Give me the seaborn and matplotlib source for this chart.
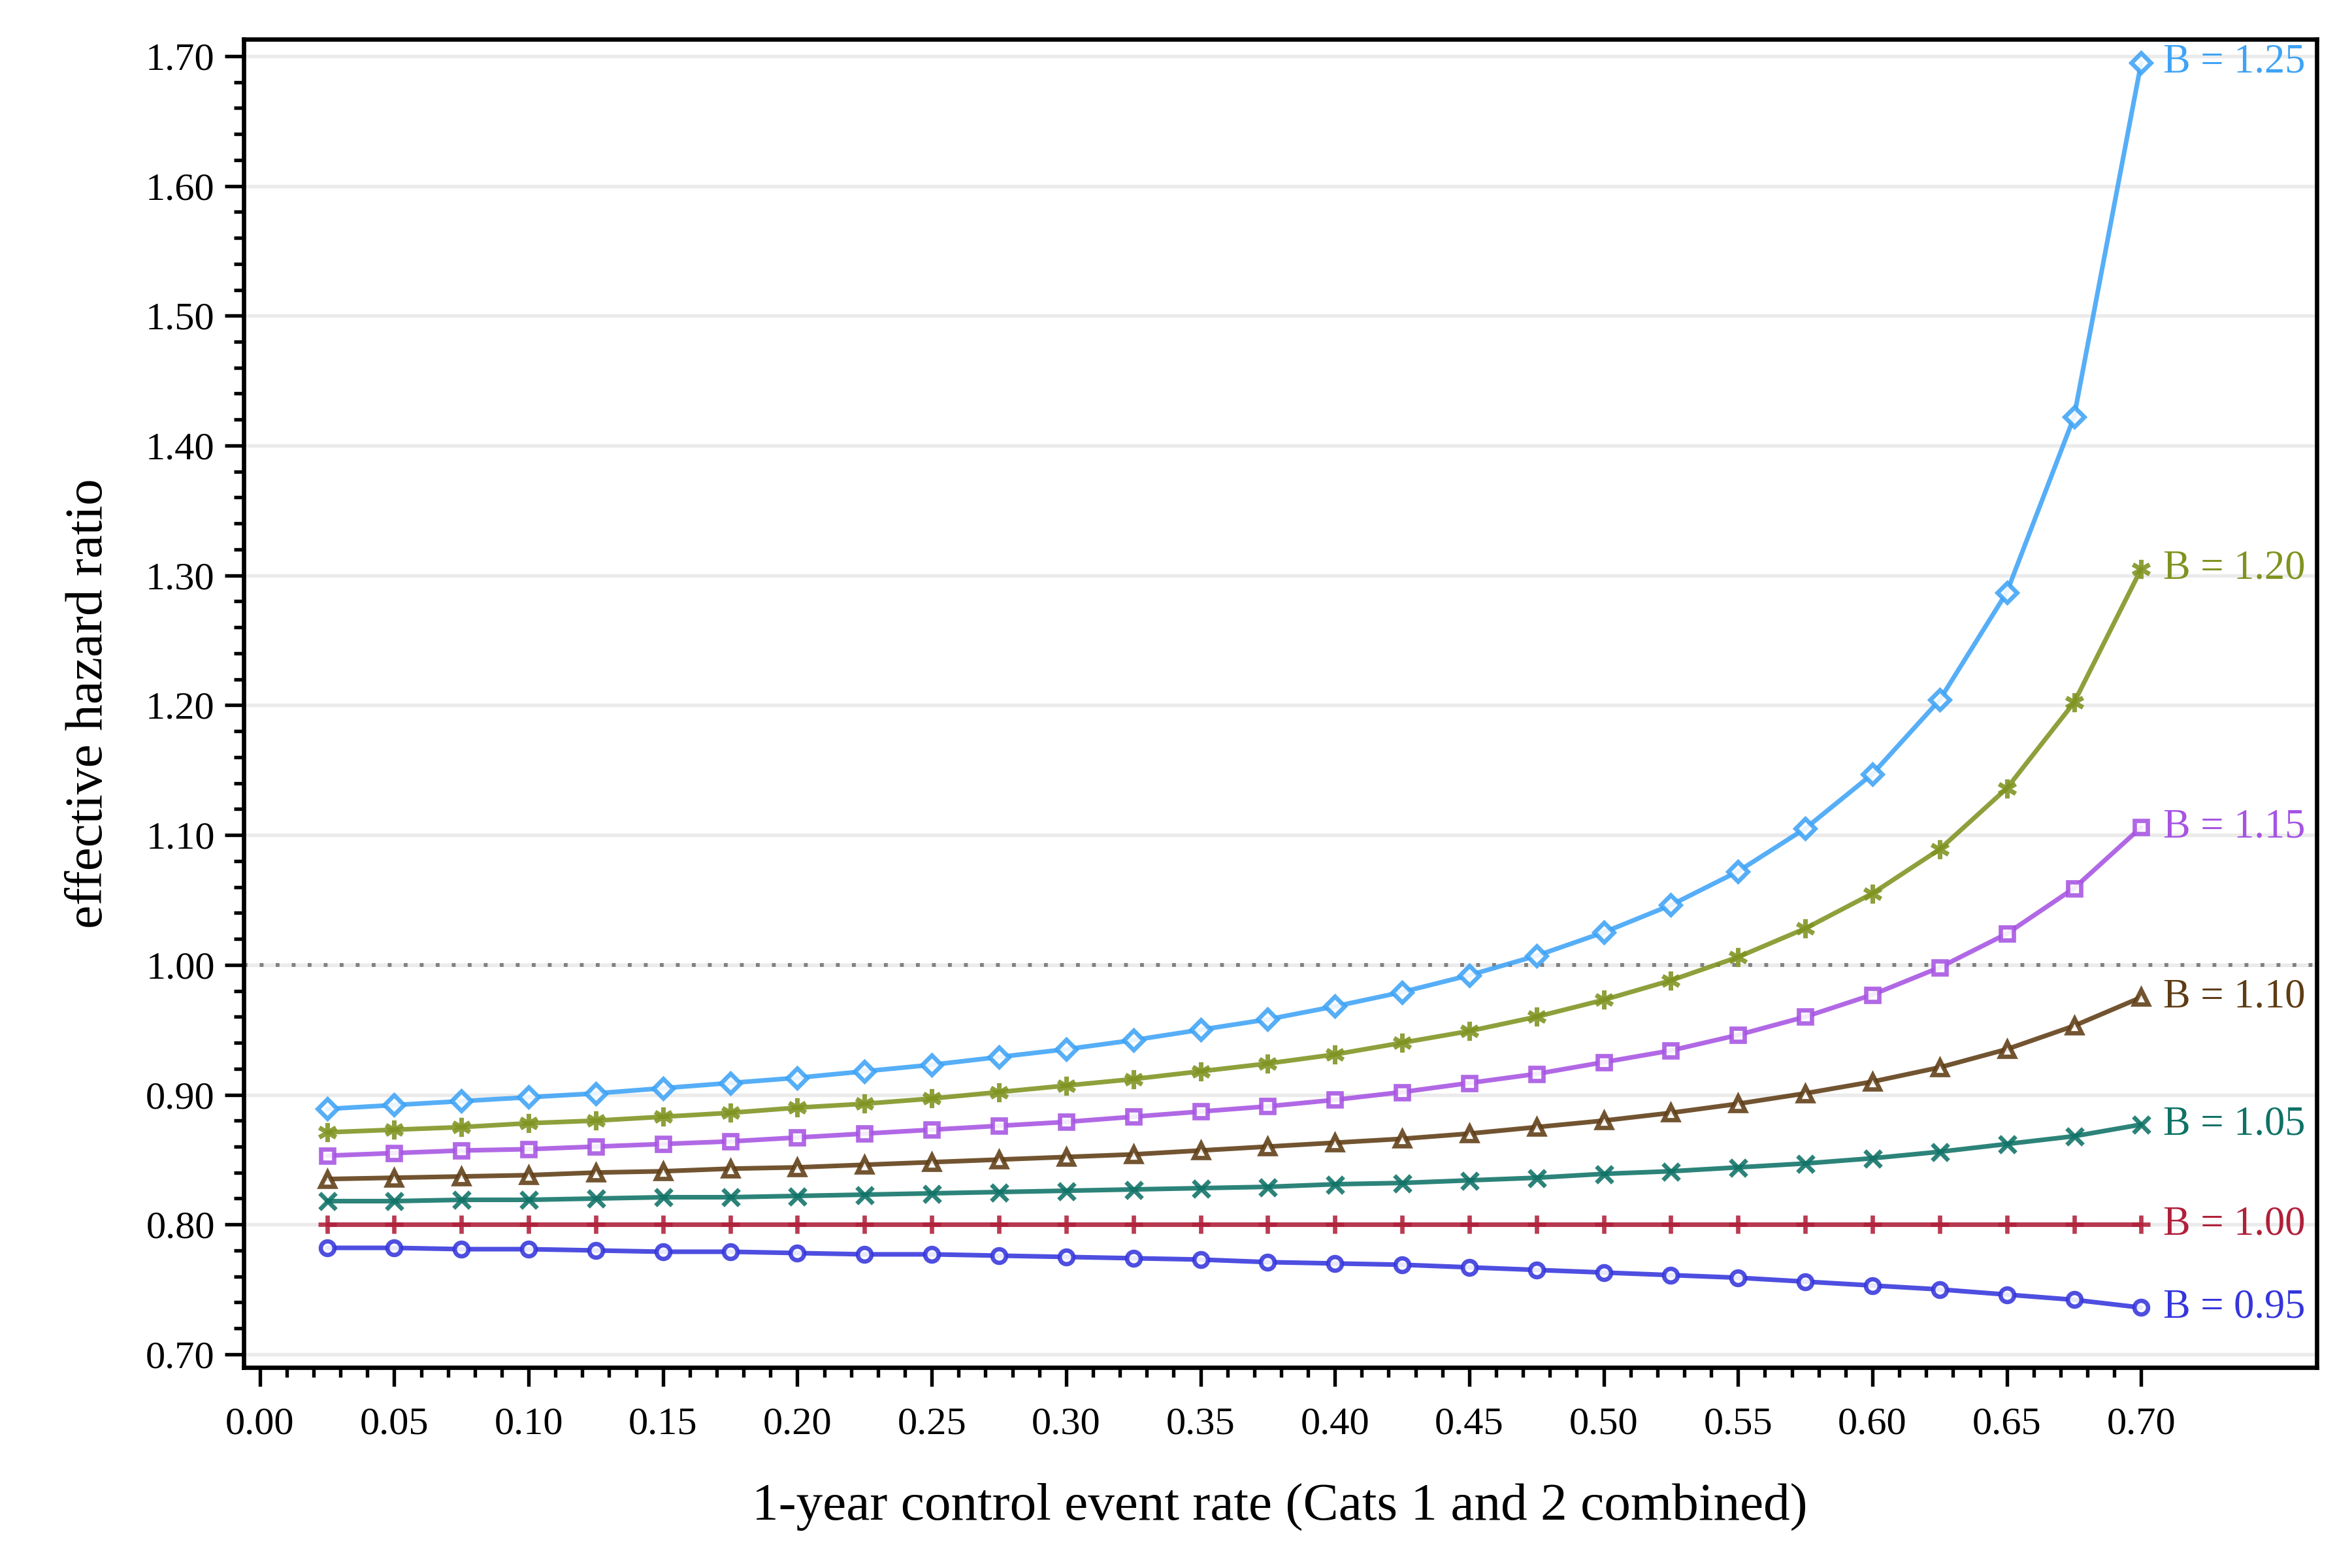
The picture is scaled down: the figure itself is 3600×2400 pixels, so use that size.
import numpy as np
import pandas as pd
import matplotlib
matplotlib.use("Agg")
import matplotlib.pyplot as plt
from matplotlib.ticker import MultipleLocator, FormatStrFormatter
import seaborn as sns

# ---- data ----
event_rate = [0.025, 0.05, 0.075, 0.10, 0.125, 0.15, 0.175, 0.20, 0.225, 0.25,
              0.275, 0.30, 0.325, 0.35, 0.375, 0.40, 0.425, 0.45, 0.475, 0.50,
              0.525, 0.55, 0.575, 0.60, 0.625, 0.65, 0.675, 0.70]

hr_125 = [0.889, 0.892, 0.895, 0.898, 0.901, 0.905, 0.909, 0.913, 0.918, 0.923,
          0.929, 0.935, 0.942, 0.950, 0.958, 0.968, 0.979, 0.992, 1.007, 1.025,
          1.046, 1.072, 1.105, 1.147, 1.204, 1.287, 1.422, 1.695]
hr_120 = [0.871, 0.873, 0.875, 0.878, 0.880, 0.883, 0.886, 0.890, 0.893, 0.897,
          0.902, 0.907, 0.912, 0.918, 0.924, 0.931, 0.940, 0.949, 0.960, 0.973,
          0.988, 1.006, 1.028, 1.055, 1.089, 1.136, 1.202, 1.305]
hr_115 = [0.853, 0.855, 0.857, 0.858, 0.860, 0.862, 0.864, 0.867, 0.870, 0.873,
          0.876, 0.879, 0.883, 0.887, 0.891, 0.896, 0.902, 0.909, 0.916, 0.925,
          0.934, 0.946, 0.960, 0.977, 0.998, 1.024, 1.059, 1.106]
hr_110 = [0.835, 0.836, 0.837, 0.838, 0.840, 0.841, 0.843, 0.844, 0.846, 0.848,
          0.850, 0.852, 0.854, 0.857, 0.860, 0.863, 0.866, 0.870, 0.875, 0.880,
          0.886, 0.893, 0.901, 0.910, 0.921, 0.935, 0.953, 0.975]
hr_105 = [0.818, 0.818, 0.819, 0.819, 0.820, 0.821, 0.821, 0.822, 0.823, 0.824,
          0.825, 0.826, 0.827, 0.828, 0.829, 0.831, 0.832, 0.834, 0.836, 0.839,
          0.841, 0.844, 0.847, 0.851, 0.856, 0.862, 0.868, 0.877]
hr_100 = [0.800] * 28
hr_095 = [0.782, 0.782, 0.781, 0.781, 0.780, 0.779, 0.779, 0.778, 0.777, 0.777,
          0.776, 0.775, 0.774, 0.773, 0.771, 0.770, 0.769, 0.767, 0.765, 0.763,
          0.761, 0.759, 0.756, 0.753, 0.750, 0.746, 0.742, 0.736]

series_labels = ["B = 1.25", "B = 1.20", "B = 1.15", "B = 1.10", "B = 1.05", "B = 1.00", "B = 0.95"]
series_values = [hr_125, hr_120, hr_115, hr_110, hr_105, hr_100, hr_095]

x_label = "1-year control event rate (Cats 1 and 2 combined)"
y_label = "effective hazard ratio"

# ---- styles ----
colors = ["#3ea3f6", "#7f9320", "#a653e2", "#5e3c14", "#0f7266", "#b0203a", "#3535dc"]
markers = ["D", (6, 2, 0), "s", "^", "x", "+", "o"]
msizes = [5.0, 7.0, 5.0, 5.5, 6.0, 6.5, 5.0]

sns.set_theme(style="ticks")
plt.rcParams["font.family"] = ["Liberation Serif", "DejaVu Serif"]

fig = plt.figure(figsize=(12, 8), dpi=300)
ax = fig.add_axes([0.1035, 0.128, 0.8815, 0.847])

# grid and reference line
for v in np.arange(0.70, 1.71, 0.10):
    ax.axhline(v, color="#ebebeb", lw=1.3, zorder=0)
ax.axhline(1.0, color="#808080", lw=1.4, ls=(0, (1, 3.2)), zorder=1)

df = pd.DataFrame({"x": event_rate})
for lab, vals, c, m, ms in zip(series_labels, series_values, colors, markers, msizes):
    df["y"] = vals
    filled = m in ("D", "s", "^", "o")
    sns.lineplot(data=df, x="x", y="y", ax=ax, color=c, lw=1.7, alpha=0.88,
                 marker=m, markersize=ms,
                 markerfacecolor="white" if filled else c,
                 markeredgecolor=c, markeredgewidth=1.6, zorder=3)
    ax.annotate(lab, xy=(event_rate[-1], vals[-1]), xytext=(8, 0),
                textcoords="offset points", ha="left", va="center",
                fontsize=15, color=c)

ax.set_xlim(-0.0061, 0.7653)
ax.set_ylim(0.69, 1.713)

ax.yaxis.set_major_locator(MultipleLocator(0.10))
ax.yaxis.set_minor_locator(MultipleLocator(0.02))
ax.yaxis.set_major_formatter(FormatStrFormatter("%.2f"))
xt = np.round(np.arange(0, 0.7001, 0.05), 2)
ax.set_xticks(xt)
ax.set_xticks(np.round(np.arange(0, 0.7001, 0.01), 2), minor=True)
ax.set_xticklabels([f"{t:.2f}" for t in xt])

ax.tick_params(axis="both", which="major", direction="out", length=7, width=1.3,
               labelsize=14.5, color="black", labelcolor="black")
ax.tick_params(axis="both", which="minor", direction="out", length=3.5, width=1.3,
               color="black")
ax.tick_params(axis="x", which="major", pad=7.5)

for s in ax.spines.values():
    s.set_visible(True)
    s.set_linewidth(1.6)
    s.set_color("black")

ax.set_xlabel(x_label, fontsize=19.5, labelpad=15, color="black")
ax.set_ylabel(y_label, fontsize=19.5, labelpad=12, color="black")

fig.savefig("out.png", dpi=300, facecolor="white")
